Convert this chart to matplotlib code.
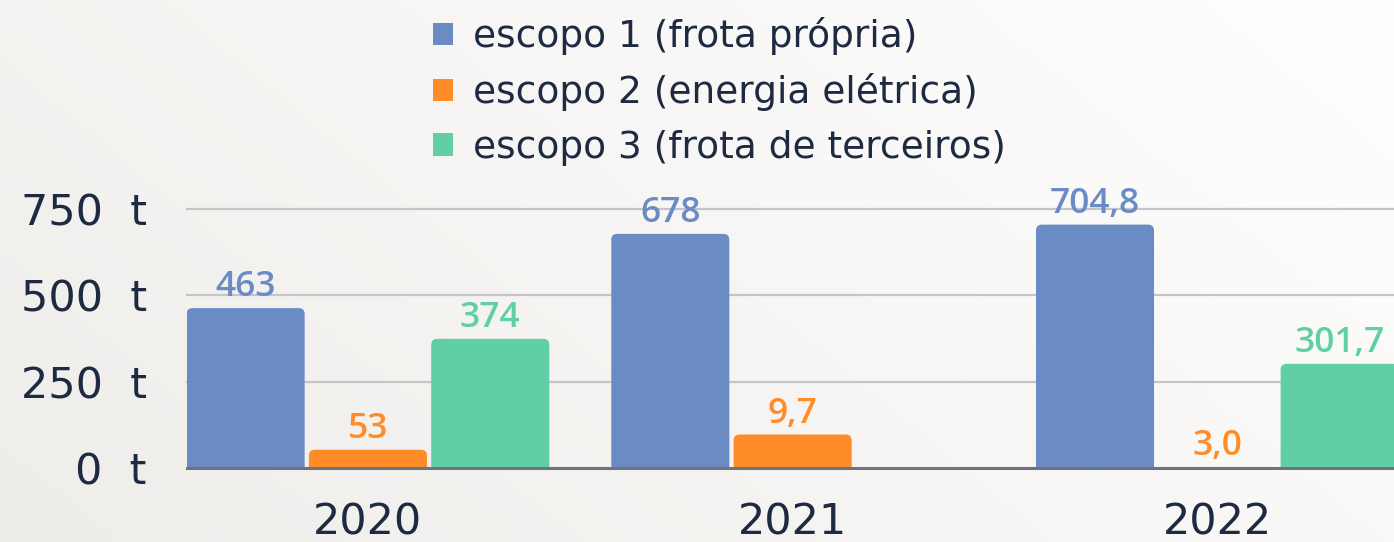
import numpy as np
import matplotlib
matplotlib.use("Agg")
import matplotlib.pyplot as plt
from matplotlib.patches import FancyBboxPatch, Patch

plt.rcParams['font.family'] = ['DejaVu Sans']

years = ["2020", "2021", "2022"]
series_names = ["escopo 1 (frota própria)", "escopo 2 (energia elétrica)", "escopo 3 (frota de terceiros)"]
escopo1 = [463, 678, 704.8]
escopo2 = [53, 97, 3.0]
escopo3 = [374, 0, 301.7]
labels1 = ["463", "678", "704,8"]
labels2 = ["53", "9,7", "3,0"]
labels3 = ["374", "", "301,7"]
yticks = [0, 250, 500, 750]
ytick_labels = ["0  t", "250  t", "500  t", "750  t"]

colors = ["#6b8bc5", "#ff8c28", "#60cfa6"]
text_dark = "#1e2a42"

W, H = 1394, 542
fig = plt.figure(figsize=(W / 100, H / 100), dpi=100)

# background gradient
bg = fig.add_axes([0, 0, 1, 1], zorder=-10)
xx, yy = np.meshgrid(np.linspace(0, 1, 300), np.linspace(0, 1, 120))
t = np.clip(0.75 * xx + 0.35 * (1 - yy), 0, 1)
c0 = np.array([0xef, 0xed, 0xea]) / 255
c1 = np.array([0xfd, 0xfd, 0xfc]) / 255
img = c0[None, None, :] * (1 - t[..., None]) + c1[None, None, :] * t[..., None]
bg.imshow(img, aspect='auto', extent=[0, 1, 0, 1], origin='upper')
bg.axis('off')

ax = fig.add_axes([187 / W, (H - 468) / H, (W - 187) / W, 259 / H])
ax.set_facecolor('none')
ax.set_xlim(-0.426, 2.416)
ax.set_ylim(0, 750)

x = np.arange(len(years))
bw = 0.278
off = 0.288
px_x = (W - 187) / (2.416 + 0.426)
px_y = 259 / 750
aspect = px_x / px_y
r = 6 / px_x

for i, (vals, labs) in enumerate(zip([escopo1, escopo2, escopo3], [labels1, labels2, labels3])):
    bars = ax.bar(x + (i - 1) * off, vals, bw, color=colors[i], zorder=3)
    for b, v, lab in zip(bars, vals, labs):
        b.set_visible(False)
        if v <= 0:
            continue
        x0 = b.get_x()
        w = b.get_width()
        y0 = -40
        p = FancyBboxPatch((x0 + r, y0 + r * aspect), w - 2 * r, v - y0 - 2 * r * aspect,
                           boxstyle=f"round,pad={r},rounding_size={r}",
                           mutation_aspect=aspect, fc=colors[i], ec='none', zorder=3)
        ax.add_patch(p)
        if lab:
            ax.text(x0 + w / 2, v + 4 / px_y, lab, ha='center', va='bottom', color=colors[i],
                    fontsize=25.5, fontweight='semibold', family=['Open Sans', 'DejaVu Sans'],
                    clip_on=False, zorder=5)

for yv in yticks[1:]:
    ax.axhline(yv, color="#c3c5cb", lw=1.6, zorder=1, clip_on=False)
ax.axhline(0, color="#6e7381", lw=2.2, zorder=4, clip_on=False)

for s in ax.spines.values():
    s.set_visible(False)
ax.set_yticks(yticks)
ax.set_yticklabels(ytick_labels, fontsize=31, color=text_dark)
ax.set_xticks(x)
ax.set_xticklabels(years, fontsize=31, color=text_dark)
ax.tick_params(axis='y', length=0, pad=29)
ax.tick_params(axis='x', length=0, pad=24)

handles = [Patch(facecolor=c, edgecolor='none') for c in colors]
fig.legend(handles, series_names, loc='upper left', bbox_to_anchor=(433 / W, 1.0 - 17 / H),
           frameon=False, fontsize=27, labelcolor=text_dark, handlelength=0.53, handleheight=0.53,
           handletextpad=0.53, labelspacing=0.49, borderpad=0.0, borderaxespad=0.0)

fig.savefig("out.png", dpi=100)
